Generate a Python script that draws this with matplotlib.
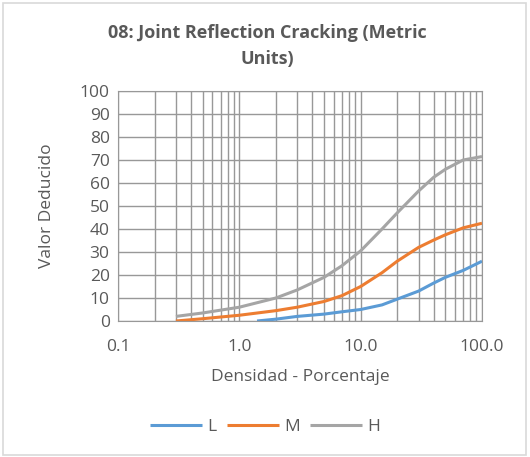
import matplotlib
matplotlib.use("Agg")
import matplotlib.pyplot as plt
from matplotlib.patches import Rectangle
from matplotlib.ticker import LogLocator, FixedLocator, NullFormatter

plt.rcParams['font.family'] = ['Open Sans', 'DejaVu Sans']

title = "08: Joint Reflection Cracking (Metric\nUnits)"
x_label = "Densidad - Porcentaje"
y_label = "Valor Deducido"
x_ticks = [0.1, 1, 10, 100]
x_tick_labels = ["0.1", "1.0", "10.0", "100.0"]
y_ticks = [0, 10, 20, 30, 40, 50, 60, 70, 80, 90, 100]

l_x = [1.4, 2, 3, 5, 7, 10, 15, 20, 30, 40, 50, 70, 100]
l_y = [0, 0.8, 2, 3, 4, 5, 7, 9.5, 13, 16.5, 19, 22, 26]
m_x = [0.3, 0.5, 1, 2, 3, 5, 7, 10, 15, 20, 30, 40, 50, 70, 100]
m_y = [0, 1, 2.5, 4.5, 6, 8.5, 11, 15, 21, 26, 32, 35.2, 37.5, 40.5, 42.5]
h_x = [0.3, 0.5, 1, 2, 3, 5, 7, 10, 15, 20, 30, 40, 50, 70, 100]
h_y = [2, 3.5, 6, 10, 13.5, 19, 24, 30.5, 40, 47, 56.5, 62.5, 66, 70, 71.5]

series = [("L", l_x, l_y, "#5b9bd5"), ("M", m_x, m_y, "#ed7d31"), ("H", h_x, h_y, "#a5a5a5")]

text_color = "#595959"
grid_color = "#989898"

fig = plt.figure(figsize=(5.30, 4.57), dpi=100)
fig.patches.append(Rectangle((0.006, 0.005), 0.986, 0.988, transform=fig.transFigure,
                             fill=False, edgecolor="#d9d9d9", linewidth=1.2))
ax = fig.add_axes([118/530, 1-321/457, (482-118)/530, (321-91)/457])

for name, xs, ys, c in series:
    ax.plot(xs, ys, color=c, linewidth=2.2, label=name, solid_capstyle='butt',
            solid_joinstyle='round')

ax.set_xscale('log')
ax.set_xlim(0.1, 100)
ax.set_ylim(0, 100)
ax.xaxis.set_major_locator(FixedLocator(x_ticks))
ax.set_xticklabels(x_tick_labels)
ax.xaxis.set_minor_locator(LogLocator(base=10, subs=[2, 3, 4, 5, 6, 7, 8, 9]))
ax.xaxis.set_minor_formatter(NullFormatter())
ax.set_yticks(y_ticks)
ax.grid(True, which='both', axis='x', color=grid_color, linewidth=1.0)
ax.grid(True, which='major', axis='y', color=grid_color, linewidth=1.0)
ax.set_axisbelow(True)
for s in ax.spines.values():
    s.set_color(grid_color)
ax.tick_params(which='both', length=0, colors=text_color, labelsize=12.5)
ax.tick_params(axis='x', pad=13)
ax.tick_params(axis='y', pad=6)

ax.set_xlabel(x_label, color=text_color, fontsize=12.5, labelpad=10)
ax.set_ylabel(y_label, color=text_color, fontsize=12.5, labelpad=18)
fig.text(0.505, 0.948, title, ha='center', va='top', color=text_color,
         fontsize=13, fontweight='bold', linespacing=1.6)

leg = fig.legend(loc='center', bbox_to_anchor=(0.5, 1-427/457), ncol=3, frameon=False,
                 fontsize=12.5, handlelength=3.0, handletextpad=0.3, columnspacing=0.6)
for t in leg.get_texts():
    t.set_color(text_color)

fig.savefig("out.png", dpi=100)
